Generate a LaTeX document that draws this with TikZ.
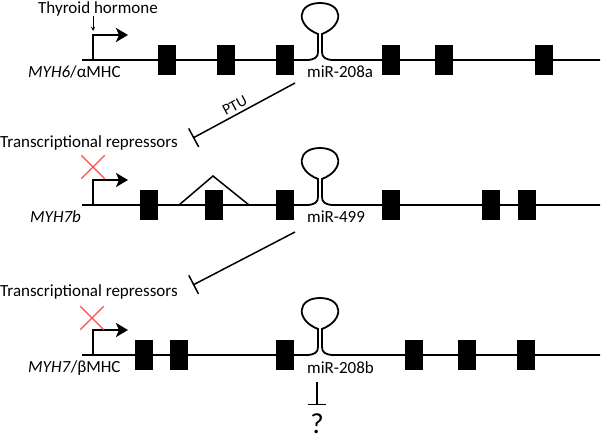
\documentclass[tikz,border=0pt]{standalone}
\usepackage{fontspec}
\setmainfont{Carlito}
\usetikzlibrary{arrows.meta,shapes.misc}

\begin{document}
\begin{tikzpicture}[x=1pt, y=-1pt, > = stealth, font=\fontsize{17}{20}\selectfont]
    % Estilos
    \tikzstyle{gene}=[line width=1.8pt]
    \tikzstyle{exon}=[rectangle, fill=black, inner sep=0pt, minimum width=18pt, minimum height=30pt]
    \tikzstyle{prom}=[line width=2.4pt, -{Stealth[length=12pt,width=14pt,inset=3pt]}]
    \tikzstyle{inhib}=[line width=1.5pt, {Bar[width=21pt,line width=1.5pt]}-]
    \tikzstyle{blocked}=[cross out, draw=red!70, line width=1.4pt, inner sep=0pt, minimum size=22pt]
    \tikzstyle{txt}=[inner sep=0pt, anchor=base west]

    \useasboundingbox (0,0) rectangle (601,439);

    % Linhas dos genes com o grampo do miRNA
    \foreach \Y/\g in {60/a, 205/b, 355/c} {
        \coordinate (\g S) at (82,\Y);
        \coordinate (\g E) at (600,\Y);
        \coordinate (\g L) at (306,\Y);
        \coordinate (\g R) at (334,\Y);
        \coordinate (\g P) at (93,\Y);
        \draw[gene] (\g S) -- (\g L) .. controls (315,\Y) and (318,\Y-3) .. (318,\Y-8) -- (318,\Y-26)
            .. controls (295,\Y-35) and (297,\Y-57) .. (320,\Y-57)
            .. controls (343,\Y-57) and (345,\Y-35) .. (322,\Y-26) -- (322,\Y-8)
            .. controls (322,\Y-3) and (325,\Y) .. (\g R) -- (\g E);
        \draw[prom] (\g P) |- (128,\Y-25);
    }

    % Exons
    \foreach \x [count=\i] in {158,217,276,382,435,535} \node[exon] (a\i) at (\x+9,60) {};
    \foreach \x [count=\i] in {140,205,276,382,482,518} \node[exon] (b\i) at (\x+9,205) {};
    \foreach \x [count=\i] in {135,170,276,405,458,517} \node[exon] (c\i) at (\x+9,355) {};
    \draw[line width=1.5pt] (179,205) -- (213,176) -- (249,205);

    % Textos
    \node[txt] (thy) at (38,13) {Thyroid hormone};
    \node[txt] (gA) at (28,77) {\textit{MYH6}/αMHC};
    \node[txt] (gB) at (30,222) {\textit{MYH7b}};
    \node[txt] (gC) at (28,372) {\textit{MYH7}/βMHC};
    \node[txt] (mA) at (307,77) {miR-208a};
    \node[txt] (mB) at (307,222) {miR-499};
    \node[txt] (mC) at (307,373) {miR-208b};
    \node[txt] (trA) at (0,147) {Transcriptional repressors};
    \node[txt] (trB) at (0,296) {Transcriptional repressors};
    \node[font=\fontsize{29}{32}\selectfont, inner sep=0pt] (q) at (317,424) {?};
    \node[blocked] (xB) at (93,167) {};
    \node[blocked] (xC) at (92,318) {};

    % Setas e inibicoes
    \coordinate (t1) at (93,16);
    \coordinate (t2) at (93,31);
    \draw[->, line width=0.9pt] (t1) -- (t2);
    \coordinate (pA) at (295,83);
    \coordinate (pB) at (193,138);
    \draw[inhib] (pB) -- node[sloped, above, pos=0.45, inner sep=3pt, font=\fontsize{15.5}{18}\selectfont] (ptu) {PTU} (pA);
    \coordinate (qA) at (295,232);
    \coordinate (qB) at (193,285);
    \draw[inhib] (qB) -- (qA);
    \coordinate (m1) at (317,382);
    \coordinate (m2) at (317,405);
    \draw[inhib, {Bar[width=18pt,line width=1.5pt]}-] (m2) -- (m1);
\end{tikzpicture}
\end{document}
